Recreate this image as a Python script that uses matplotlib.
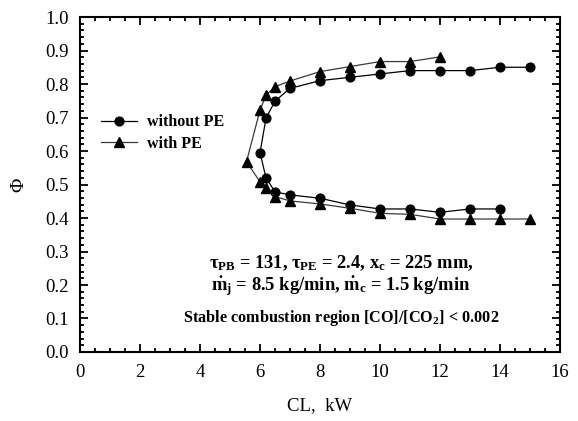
import matplotlib
matplotlib.use("Agg")
import matplotlib.pyplot as plt
from matplotlib.ticker import MultipleLocator

# data (CL in kW, equivalence ratio Phi)
cl_without = [15, 14, 13, 12, 11, 10, 9, 8, 7, 6.5, 6.2, 6.0,
              6.2, 6.5, 7, 8, 9, 10, 11, 12, 13, 14]
phi_without = [0.85, 0.85, 0.84, 0.84, 0.84, 0.83, 0.82, 0.81, 0.787, 0.749, 0.698, 0.595,
               0.52, 0.478, 0.469, 0.459, 0.439, 0.427, 0.427, 0.417, 0.427, 0.427]

cl_with = [12, 11, 10, 9, 8, 7, 6.5, 6.2, 6.0, 5.55,
           6.0, 6.2, 6.5, 7, 8, 9, 10, 11, 12, 13, 14, 15]
phi_with = [0.881, 0.867, 0.867, 0.852, 0.837, 0.809, 0.792, 0.767, 0.722, 0.568,
            0.508, 0.489, 0.464, 0.451, 0.442, 0.429, 0.414, 0.411, 0.397, 0.397, 0.397, 0.397]

series_labels = ["without PE", "with PE"]
note_lines = [
    r"$\tau_{\rm PB}$ = 131, $\tau_{\rm PE}$ = 2.4, x$_{\rm c}$ = 225 mm,",
    r"$\dot{\rm m}_{\rm j}$ = 8.5 kg/min, $\dot{\rm m}_{\rm c}$ = 1.5 kg/min",
    r"Stable combustion region [CO]/[CO$_{\rm 2}$] < 0.002",
]

plt.rcParams["font.family"] = ["Liberation Serif", "DejaVu Serif"]
plt.rcParams["mathtext.fontset"] = "custom"
plt.rcParams["mathtext.rm"] = "Liberation Serif:bold"
plt.rcParams["mathtext.it"] = "Liberation Serif:bold"
plt.rcParams["mathtext.bf"] = "Liberation Serif:bold"

fig = plt.figure(figsize=(5.78, 4.21), dpi=100)
ax = fig.add_axes([0.1384, 0.1639, 0.8305, 0.7957])

ax.plot(cl_without, phi_without, color="black", lw=0.9, marker="o", ms=6.3,
        mfc="black", mec="black", label=series_labels[0])
ax.plot(cl_with, phi_with, color="#3a3a3a", lw=0.9, marker="^", ms=6.5,
        mfc="black", mec="black", label=series_labels[1])

ax.set_xlim(0, 16)
ax.set_ylim(0, 1.0)
ax.xaxis.set_major_locator(MultipleLocator(2))
ax.xaxis.set_minor_locator(MultipleLocator(0.5))
ax.yaxis.set_major_locator(MultipleLocator(0.1))
ax.yaxis.set_minor_locator(MultipleLocator(0.02))
ax.yaxis.set_major_formatter(plt.FormatStrFormatter("%.1f"))

ax.tick_params(which="both", direction="in", top=True, right=True, width=1.3,
               labelsize=13.5)
ax.tick_params(which="major", length=5.5)
ax.tick_params(which="minor", length=2.8)
ax.tick_params(axis="x", pad=9)
ax.tick_params(axis="y", pad=8)
for s in ax.spines.values():
    s.set_linewidth(1.5)

ax.set_xlabel("CL,  kW", fontsize=13.5, labelpad=11)
ax.set_ylabel("\u03a6", fontsize=14, labelpad=13, fontweight="normal")

leg = ax.legend(loc="center left", bbox_to_anchor=(0.043, 0.653), frameon=False,
                borderpad=0, borderaxespad=0, handlelength=2.3, handletextpad=0.6,
                labelspacing=0.35, prop={"family": "Liberation Serif", "weight": "bold", "size": 11.5})

note_y = [0.266, 0.194, 0.102]
note_size = [13.3, 13.3, 11.7]
for txt, yy, fs in zip(note_lines, note_y, note_size):
    ax.text(8.7, yy, txt, ha="center", va="center", fontsize=fs, fontweight="bold")

fig.savefig("out.png", dpi=100)
